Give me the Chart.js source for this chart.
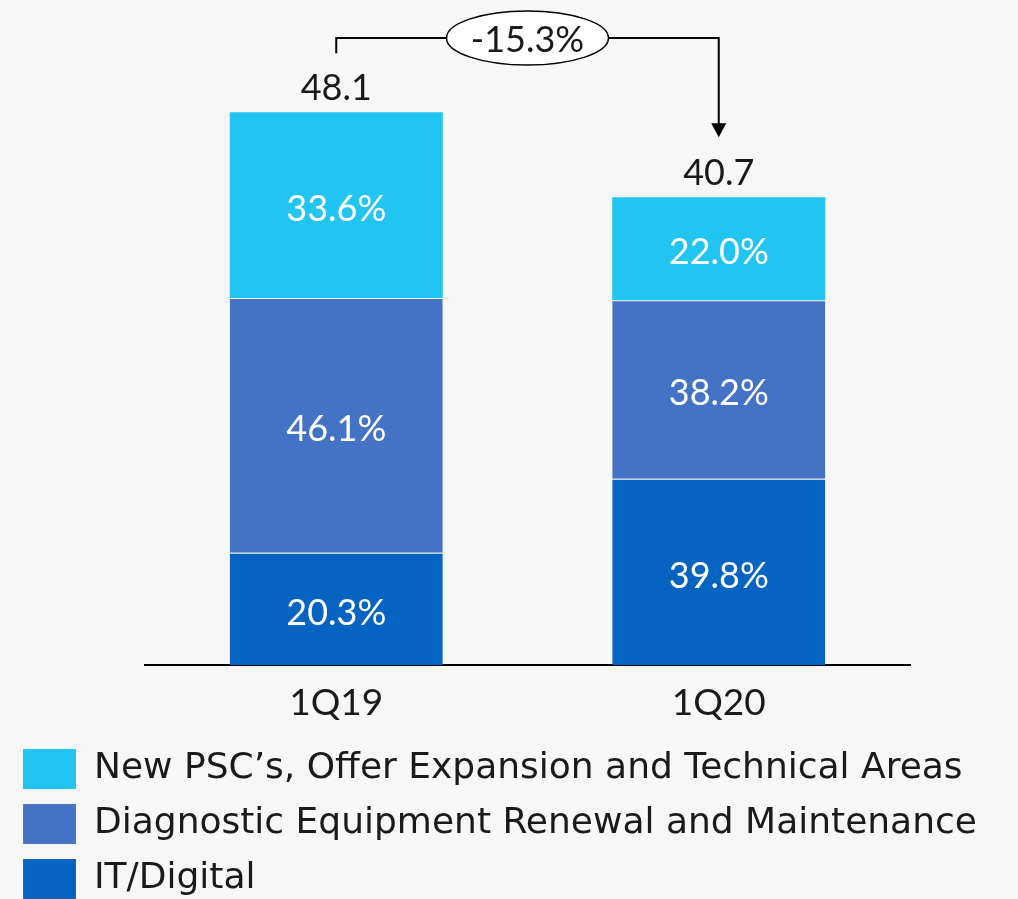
<!DOCTYPE html>
<html>
<head>
<meta charset="utf-8">
<script src="https://cdn.jsdelivr.net/npm/chart.js@4"></script>
<style>
  html, body { margin: 0; padding: 0; background: #f7f7f7; }
  #wrap { width: 1018px; height: 899px; }
</style>
</head>
<body>
<div id="wrap"><canvas id="chart"></canvas></div>
<script>
// data
const quarters = ['1Q19', '1Q20'];
const totals = [48.1, 40.7];
const itShare = [20.3, 39.8];
const diagShare = [46.1, 38.2];
const newPscShare = [33.6, 22.0];
const changeLabel = '-15.3%';

const seriesNames = [
    'IT/Digital',
    'Diagnostic Equipment Renewal and Maintenance',
    'New PSC\u2019s, Offer Expansion and Technical Areas'
];
const seriesColors = ['#0563c1', '#4472c4', '#22c4f2'];

const FONT = 'Lato';
const LEGEND_FONT = 'DejaVu Sans';
const textColor = '#1a1a1a';

// segment heights = share of the quarter total
const toAmounts = shares => shares.map((s, i) => totals[i] * s / 100);
const shares = [itShare, diagShare, newPscShare];

const datasets = shares.map((s, k) => ({
    label: seriesNames[k],
    data: toAmounts(s),
    shares: s,
    backgroundColor: seriesColors[k],
    borderColor: 'rgba(255,255,255,0.35)',
    borderWidth: k < 2 ? { top: 1, left: 0, right: 0, bottom: 0 } : 0,
    borderSkipped: false,
    categoryPercentage: 1,
    barPercentage: 0.557
}));

const labelsPlugin = {
    id: 'labels',
    afterDatasetsDraw(chart) {
        const ctx = chart.ctx;
        const x = chart.scales.x;
        const y = chart.scales.y;
        ctx.save();

        // percentages inside segments
        ctx.fillStyle = '#ffffff';
        ctx.font = '36px ' + FONT;
        ctx.textAlign = 'center';
        ctx.textBaseline = 'middle';
        chart.data.datasets.forEach((ds, k) => {
            chart.getDatasetMeta(k).data.forEach((bar, i) => {
                const mid = (bar.y + bar.base) / 2;
                ctx.fillText(ds.shares[i].toFixed(1) + '%', bar.x, mid + 4);
            });
        });

        // totals above bars
        ctx.fillStyle = textColor;
        ctx.textBaseline = 'alphabetic';
        totals.forEach((t, i) => {
            ctx.fillText(t.toFixed(1), x.getPixelForValue(i), y.getPixelForValue(t) - 12);
        });

        // change bracket
        const x0 = x.getPixelForValue(0);
        const x1 = x.getPixelForValue(1);
        const top = chart.chartArea.top + 5;
        const leftEnd = y.getPixelForValue(totals[0]) - 59;
        const tip = y.getPixelForValue(totals[1]) - 60;
        ctx.strokeStyle = '#000';
        ctx.lineWidth = 2;
        ctx.beginPath();
        ctx.moveTo(x0, leftEnd);
        ctx.lineTo(x0, top);
        ctx.lineTo(x1, top);
        ctx.lineTo(x1, tip - 12);
        ctx.stroke();
        ctx.fillStyle = '#000';
        ctx.beginPath();
        ctx.moveTo(x1 - 7.5, tip - 14);
        ctx.lineTo(x1 + 7.5, tip - 14);
        ctx.lineTo(x1, tip);
        ctx.closePath();
        ctx.fill();

        const cx = (x0 + x1) / 2;
        ctx.beginPath();
        ctx.ellipse(cx, top, 81, 27, 0, 0, Math.PI * 2);
        ctx.fillStyle = '#ffffff';
        ctx.fill();
        ctx.lineWidth = 1.5;
        ctx.stroke();
        ctx.fillStyle = textColor;
        ctx.textBaseline = 'middle';
        ctx.fillText(changeLabel, cx, top + 2);
        ctx.restore();
    }
};

new Chart(document.getElementById('chart'), {
    type: 'bar',
    data: { labels: quarters, datasets: datasets },
    options: {
        responsive: true,
        maintainAspectRatio: false,
        animation: false,
        layout: { padding: { top: 33, left: 8, right: 0, bottom: -10 } },
        scales: {
            x: {
                stacked: true,
                grid: { display: false, drawTicks: false },
                border: { display: true, color: '#000', width: 2 },
                ticks: { color: textColor, font: { family: FONT, size: 37 }, padding: 16 },
                afterFit(scale) { scale.height = 69; }
            },
            y: {
                stacked: true,
                min: 0,
                max: 55,
                grid: { display: false },
                border: { display: false },
                ticks: { display: false },
                afterFit(scale) { scale.width = 137; }
            },
            y2: {
                position: 'right',
                grid: { display: false },
                border: { display: false },
                ticks: { display: false },
                afterFit(scale) { scale.width = 108; }
            }
        },
        plugins: {
            legend: {
                position: 'bottom',
                align: 'start',
                reverse: true,
                labels: {
                    boxWidth: 53,
                    boxHeight: 40,
                    padding: 15,
                    color: textColor,
                    font: { family: LEGEND_FONT, size: 36 }
                }
            },
            tooltip: { enabled: false }
        }
    },
    plugins: [labelsPlugin]
});
</script>
</body>
</html>
